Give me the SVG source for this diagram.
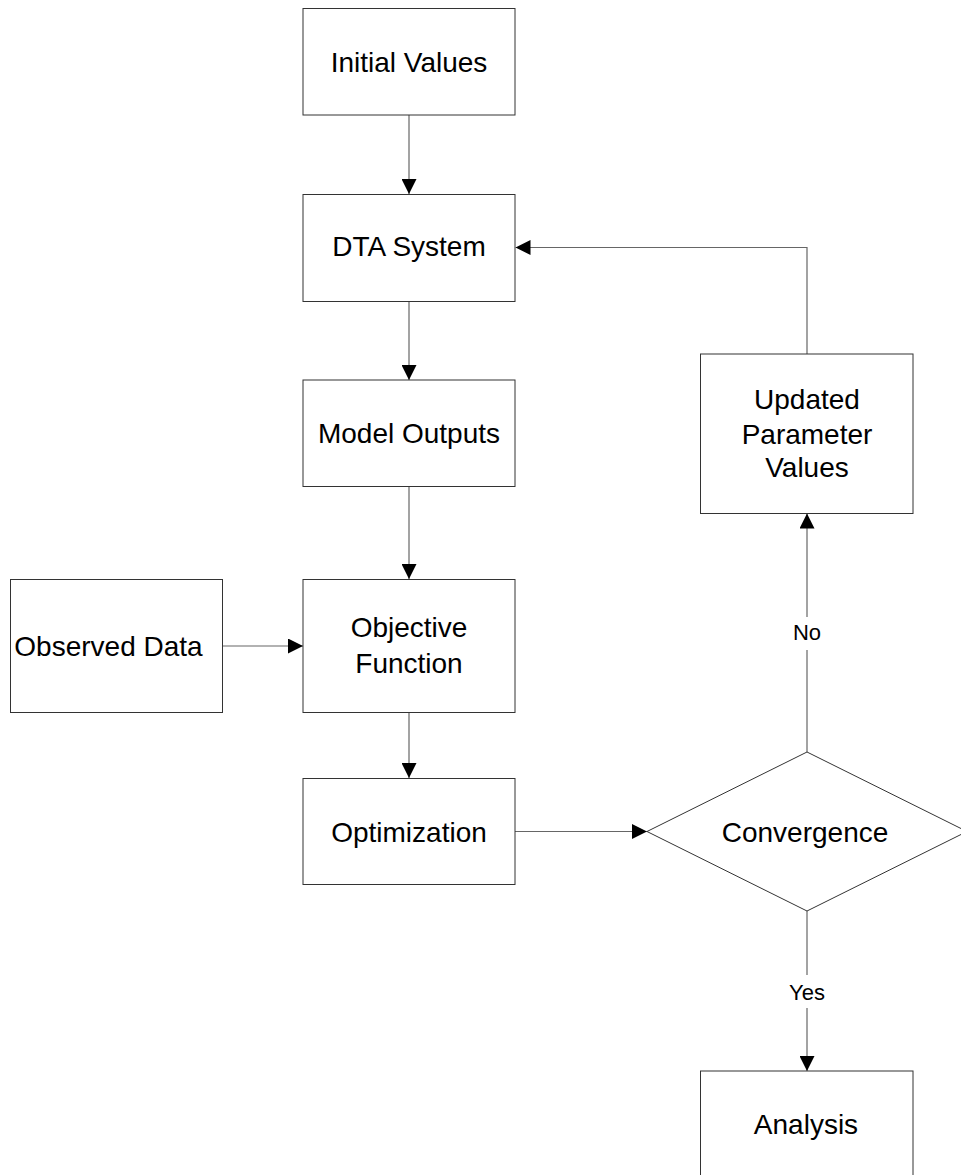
<svg xmlns="http://www.w3.org/2000/svg" width="961" height="1175" viewBox="0 0 961 1175">
<style>
.box{fill:#fff;stroke:#333;stroke-width:1}
.t{font-family:"Liberation Sans",Arial,sans-serif;font-size:28px;fill:#000;text-anchor:middle}
.lbl{font-family:"Liberation Sans",Arial,sans-serif;font-size:22px;fill:#000;text-anchor:middle}
.c{fill:none;stroke:#666;stroke-width:1.2}
</style>
<defs>
<marker id="ah" viewBox="0 0 15 15" refX="15" refY="7.5" markerWidth="15" markerHeight="15" markerUnits="userSpaceOnUse" orient="auto">
<path d="M0,0 L15,7.5 L0,15 Z" fill="#000"/>
</marker>
</defs>
<rect width="961" height="1175" fill="#fff"/>
<g id="connectors">
<path class="c" d="M409,115 V194" marker-end="url(#ah)"/>
<path class="c" d="M409,301.5 V380" marker-end="url(#ah)"/>
<path class="c" d="M409,486.5 V579" marker-end="url(#ah)"/>
<path class="c" d="M223,646 H303" marker-end="url(#ah)"/>
<path class="c" d="M409,712.5 V778" marker-end="url(#ah)"/>
<path class="c" d="M515,831.5 H647" marker-end="url(#ah)"/>
<path class="c" d="M807,752 V650"/>
<path class="c" d="M807,617 V513.5" marker-end="url(#ah)"/>
<path class="c" d="M807,354 V247.5 H515.5" marker-end="url(#ah)"/>
<path class="c" d="M807,911 V975"/>
<path class="c" d="M807,1008 V1071" marker-end="url(#ah)"/>
<text class="lbl" x="807" y="640">No</text>
<text class="lbl" x="807" y="999.5">Yes</text>
</g>
<g id="initial-values">
<rect class="box" x="303" y="8.5" width="212" height="106.5"/>
<text class="t" x="409" y="71.5">Initial Values</text>
</g>
<g id="dta-system">
<rect class="box" x="303" y="194.5" width="212" height="107"/>
<text class="t" x="409" y="256">DTA System</text>
</g>
<g id="model-outputs">
<rect class="box" x="303" y="380" width="212" height="106.5"/>
<text class="t" x="409" y="443">Model Outputs</text>
</g>
<g id="observed-data">
<rect class="box" x="10.5" y="579.5" width="212" height="133"/>
<text class="t" x="108.5" y="655.5">Observed Data</text>
</g>
<g id="objective-function">
<rect class="box" x="303" y="579.5" width="212" height="133"/>
<text class="t" x="409" y="637">Objective</text>
<text class="t" x="409" y="673">Function</text>
</g>
<g id="optimization">
<rect class="box" x="303" y="778.5" width="212" height="106"/>
<text class="t" x="409" y="841.5">Optimization</text>
</g>
<g id="convergence">
<polygon class="box" points="807,752 967,831.5 807,911 647,831.5"/>
<text class="t" x="805" y="841.5">Convergence</text>
</g>
<g id="updated-parameter-values">
<rect class="box" x="700.5" y="354" width="212.5" height="159.5"/>
<text class="t" x="807" y="409">Updated</text>
<text class="t" x="807" y="443.5">Parameter</text>
<text class="t" x="807" y="477">Values</text>
</g>
<g id="analysis">
<rect class="box" x="700.5" y="1071" width="212.5" height="107"/>
<text class="t" x="806" y="1133.5">Analysis</text>
</g>
</svg>
